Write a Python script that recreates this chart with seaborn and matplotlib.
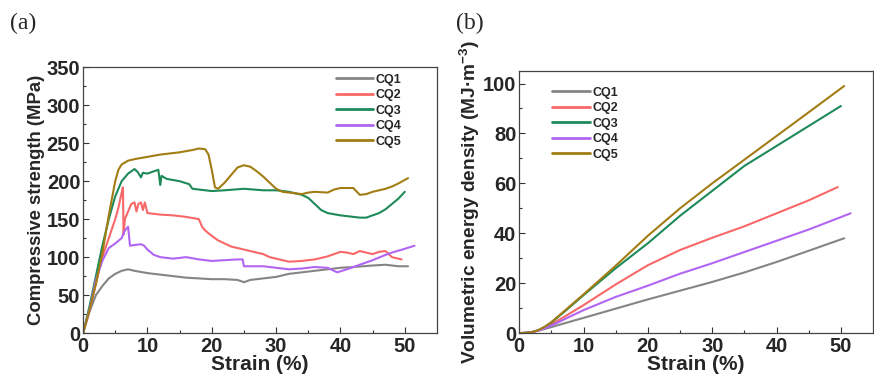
import numpy as np
import pandas as pd
import matplotlib
matplotlib.use("Agg")
import matplotlib.pyplot as plt
import seaborn as sns

# ---------------- data ----------------
names = ["CQ1", "CQ2", "CQ3", "CQ4", "CQ5"]
colors = ["#858585", "#F86868", "#1E8A5A", "#B066F2", "#A27D14"]

# (a) stress-strain
cq1_x = [0, 1, 2, 3, 4, 5, 6, 7, 8, 10, 12, 14, 16, 18, 20, 22, 24, 25, 26, 28, 30, 32, 35, 38, 40, 42, 45, 47, 49, 50.5]
cq1_y = [0, 28, 50, 62, 72, 78, 82, 84, 82, 79, 77, 75, 73, 72, 71, 71, 70, 67, 70, 72, 74, 78, 81, 84, 86, 87, 89, 90, 88, 88]

cq2_x = [0, 1, 2, 3, 4, 5, 5.5, 6.0, 6.2, 6.3, 6.5, 7, 7.5, 8, 8.3, 8.6, 9, 9.3, 9.6, 10, 12, 14, 16, 18, 18.5, 19, 20, 21, 22, 23, 24, 26, 28, 29, 30, 32, 34, 36, 38, 40, 41, 42, 43, 44, 45, 46, 47, 48, 49.5]
cq2_y = [0, 30, 65, 100, 125, 150, 165, 185, 192, 130, 150, 160, 170, 172, 160, 170, 172, 162, 172, 158, 156, 155, 153, 150, 140, 135, 128, 122, 118, 114, 112, 108, 104, 100, 98, 94, 95, 97, 101, 107, 106, 104, 108, 106, 104, 107, 108, 100, 97]

cq3_x = [0, 1, 2, 3, 4, 5, 6, 7, 8, 8.5, 9, 9.3, 10, 11, 11.7, 12, 12.2, 13, 15, 16.5, 17, 18, 20, 22, 25, 28, 30, 32, 34, 35, 36, 37, 38, 40, 42, 43, 44, 45, 46, 47, 48, 49, 50]
cq3_y = [0, 35, 75, 115, 150, 180, 200, 210, 216, 212, 205, 211, 210, 213, 215, 195, 207, 203, 200, 196, 190, 189, 187, 188, 190, 188, 188, 186, 182, 178, 170, 162, 158, 155, 153, 152, 152, 155, 158, 163, 170, 177, 186]

cq4_x = [0, 1, 2, 3, 4, 5, 6, 6.5, 7, 7.3, 8, 9, 9.5, 10, 11, 12, 14, 16, 18, 20, 22, 24, 24.8, 25, 28, 30, 32, 34, 36, 38, 39.5, 41, 43, 45, 47, 48, 50, 51.5]
cq4_y = [0, 30, 70, 95, 112, 118, 125, 135, 140, 115, 116, 117, 115, 110, 103, 100, 98, 100, 97, 95, 96, 97, 97, 88, 88, 86, 84, 85, 87, 86, 80, 84, 90, 96, 103, 106, 111, 115]

cq5_x = [0, 1, 2, 3, 4, 5, 5.5, 6, 7, 8, 10, 12, 15, 17, 18, 19, 19.5, 20, 20.5, 21, 22, 23, 24, 25, 26, 27, 28, 29, 30, 31, 32, 33, 34, 35, 36, 38, 39, 40, 42, 43, 44, 45, 47, 48, 49, 50.5]
cq5_y = [0, 30, 65, 105, 155, 200, 215, 222, 227, 229, 232, 235, 238, 241, 243, 242, 235, 215, 192, 190, 198, 208, 218, 221, 219, 213, 206, 198, 190, 186, 185, 184, 183, 185, 186, 185, 189, 191, 191, 182, 183, 186, 190, 193, 197, 204]

# (b) energy density
e1_x = [0, 1, 2, 3, 4, 5, 7, 10, 15, 20, 25, 30, 35, 40, 45, 50.5]
e1_y = [0, 0.1, 0.4, 1.0, 1.7, 2.4, 3.9, 6.1, 9.8, 13.5, 17, 20.5, 24.3, 28.5, 33, 38]
e2_x = [0, 1, 2, 3, 4, 5, 7, 10, 15, 20, 25, 30, 35, 40, 45, 49.5]
e2_y = [0, 0.1, 0.4, 1.1, 2.2, 3.5, 6.5, 11.2, 19.5, 27.2, 33.3, 38.2, 42.8, 48, 53.2, 58.5]
e3_x = [0, 1, 2, 3, 4, 5, 7, 10, 15, 20, 25, 30, 35, 40, 45, 50]
e3_y = [0, 0.1, 0.4, 1.2, 2.5, 4.2, 8.5, 15.2, 26, 36, 47, 57, 67, 75, 83, 91]
e4_x = [0, 1, 2, 3, 4, 5, 7, 10, 15, 20, 25, 30, 35, 40, 45, 50, 51.5]
e4_y = [0, 0.1, 0.4, 1.0, 2.0, 3.0, 5.5, 9.2, 14.5, 19, 23.8, 28, 32.5, 37, 41.5, 46.5, 48]
e5_x = [0, 1, 2, 3, 4, 5, 7, 10, 15, 20, 25, 30, 35, 40, 45, 50.5]
e5_y = [0, 0.1, 0.4, 1.2, 2.6, 4.4, 8.8, 15.5, 27, 39, 50, 60, 69.5, 79, 88.5, 99]

stress = [(cq1_x, cq1_y), (cq2_x, cq2_y), (cq3_x, cq3_y), (cq4_x, cq4_y), (cq5_x, cq5_y)]
energy = [(e1_x, e1_y), (e2_x, e2_y), (e3_x, e3_y), (e4_x, e4_y), (e5_x, e5_y)]

# ---------------- style ----------------
sns.set_style("ticks")
plt.rcParams["font.family"] = ["Liberation Sans", "DejaVu Sans"]
plt.rcParams["font.weight"] = "bold"
plt.rcParams["mathtext.fontset"] = "custom"
plt.rcParams["mathtext.rm"] = "Liberation Sans:bold"
plt.rcParams["mathtext.default"] = "rm"

fig = plt.figure(figsize=(8.74, 3.82), dpi=100)
axA = fig.add_axes([0.095, 0.128, 0.405, 0.696])
axB = fig.add_axes([0.594, 0.128, 0.405, 0.686])


def build(ax, series, xlim, ylim, ymaj, ymin, ylabel, ylsize):
    for (x, y), n, c in zip(series, names, colors):
        df = pd.DataFrame({"x": x, "y": y})
        sns.lineplot(data=df, x="x", y="y", ax=ax, color=c, lw=1.5,
                     label=n, sort=False, estimator=None)
    ax.set_xlim(*xlim)
    ax.set_ylim(*ylim)
    ax.set_xticks(np.arange(0, 51, 10))
    ax.set_xticks(np.arange(5, 55, 10), minor=True)
    ax.set_yticks(np.arange(0, ylim[1] + 0.1, ymaj))
    ax.set_yticks(np.arange(ymin, ylim[1], ymaj), minor=True)
    ax.tick_params(axis="both", which="major", direction="in", length=4,
                   width=0.8, labelsize=14.5, color="#333333")
    ax.tick_params(axis="y", which="major", pad=2)
    ax.tick_params(axis="x", which="major", pad=3)
    ax.tick_params(axis="both", which="minor", direction="in", length=2.5,
                   width=0.8, color="#333333")
    for lab in ax.get_xticklabels() + ax.get_yticklabels():
        lab.set_fontweight("bold")
    for s in ax.spines.values():
        s.set_color("#444444")
        s.set_linewidth(0.9)
    ax.set_xlabel("Strain (%)", fontsize=15, fontweight="bold", labelpad=-1)
    ax.set_ylabel(ylabel, fontsize=ylsize, fontweight="bold", labelpad=1)


build(axA, stress, (0, 55), (0, 350), 50, 25, "Compressive strength (MPa)", 13.3)
build(axB, energy, (0, 55), (0, 105), 20, 10, "Volumetric energy density (MJ·m$^{-3}$)", 13.8)

legA = axA.legend(loc="upper left", bbox_to_anchor=(0.7, 0.995), frameon=False,
                  prop={"size": 9, "weight": "bold"}, handlelength=3.0,
                  handletextpad=0.2, labelspacing=0.28, borderaxespad=0)
legB = axB.legend(loc="upper left", bbox_to_anchor=(0.08, 0.96), frameon=False,
                  prop={"size": 9, "weight": "bold"}, handlelength=3.0,
                  handletextpad=0.2, labelspacing=0.28, borderaxespad=0)
for leg in (legA, legB):
    for h in leg.get_lines():
        h.set_linewidth(2.0)

fig.text(0.012, 0.925, "(a)", fontsize=17, family="Liberation Serif", fontweight="normal")
fig.text(0.522, 0.925, "(b)", fontsize=17, family="Liberation Serif", fontweight="normal")

fig.savefig("out.png", dpi=100)
